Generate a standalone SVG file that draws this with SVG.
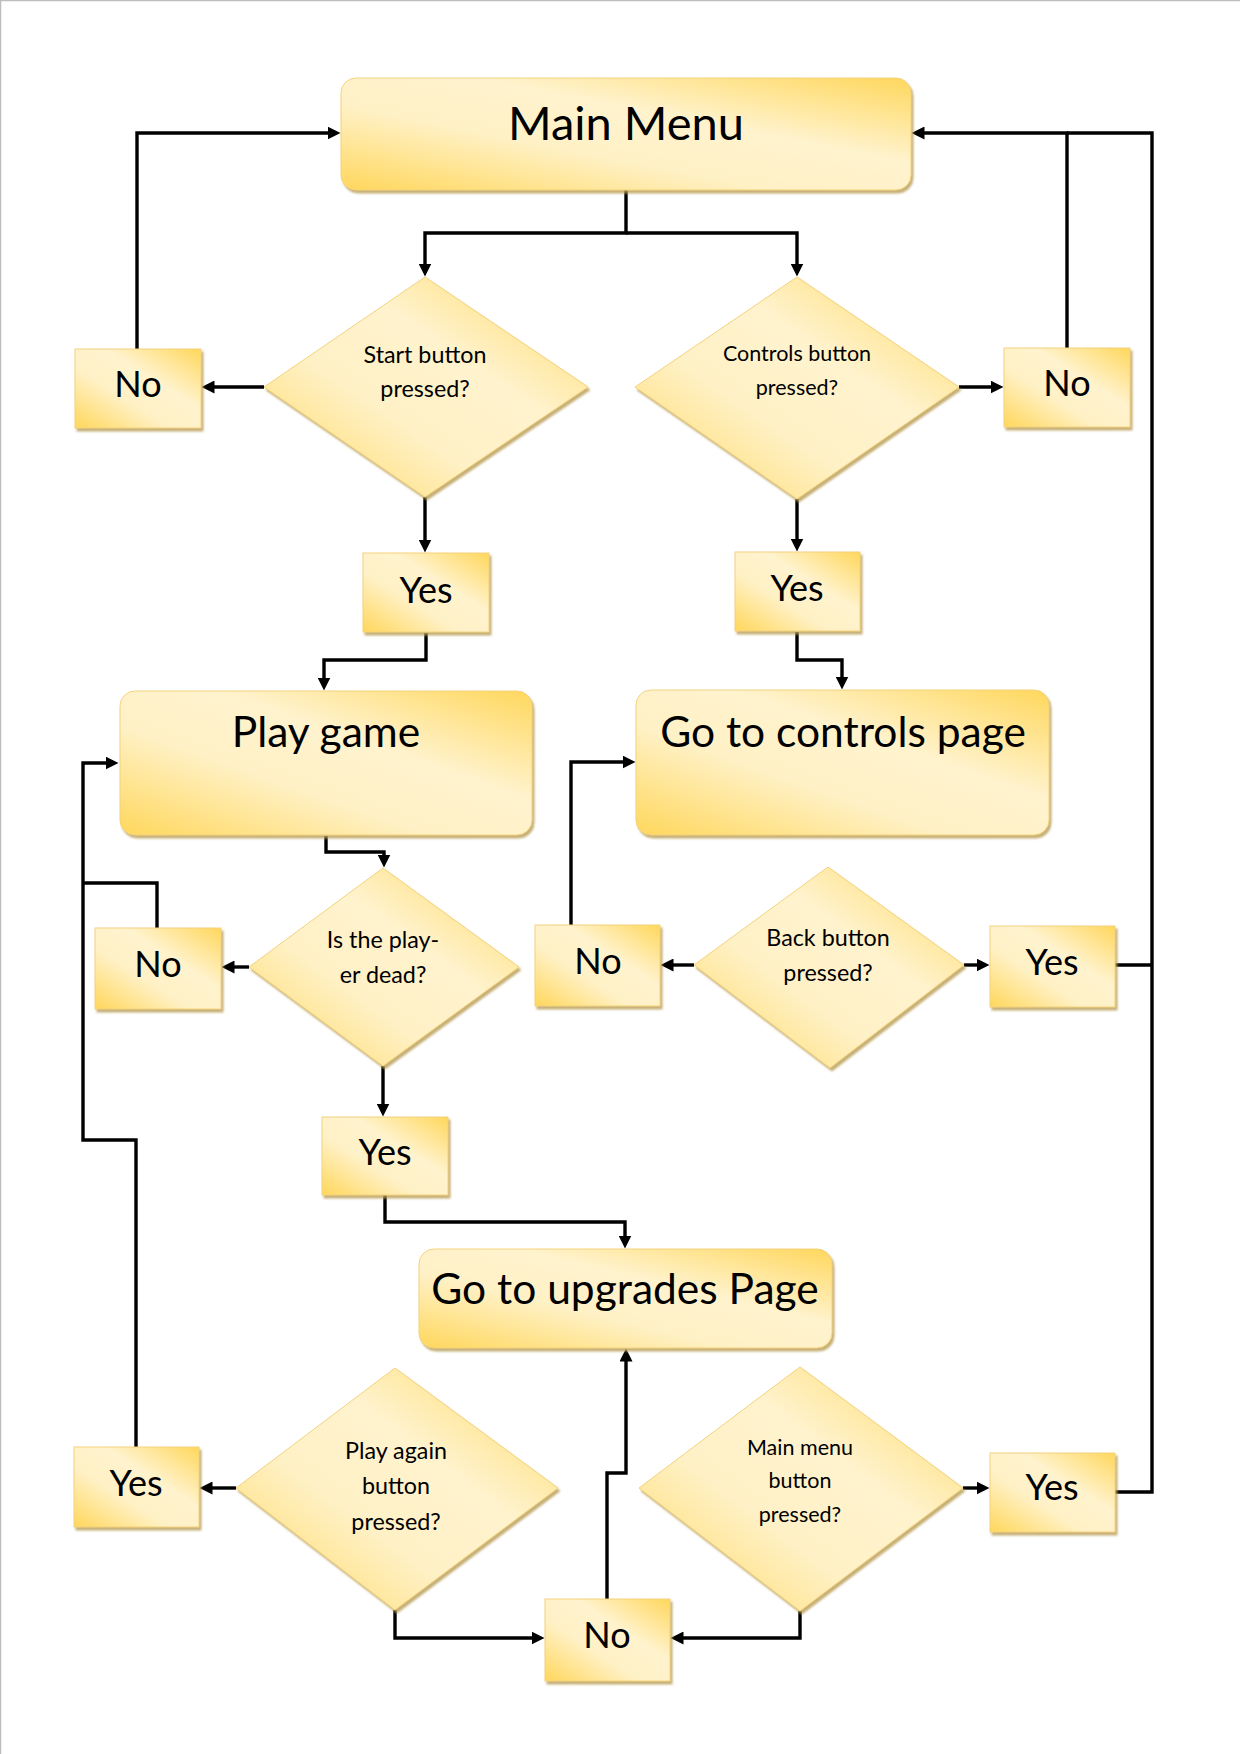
<svg xmlns="http://www.w3.org/2000/svg" width="1240" height="1754" viewBox="0 0 1240 1754">
<style>
.n{stroke:#F3D27C;stroke-width:1;filter:url(#sh)}
.big{font-family:Lato,"Liberation Sans",sans-serif;font-size:42.5px;fill:#000;text-anchor:middle}
.lab{font-family:Lato,"Liberation Sans",sans-serif;font-size:36px;fill:#000;text-anchor:middle}
.q{font-family:Lato,"Liberation Sans",sans-serif;font-size:23.3px;fill:#000;text-anchor:middle}
.qs{font-size:21.5px}
.c path{fill:none;stroke:#000;stroke-width:3.4}
.c .a{marker-end:url(#ah)}
</style>
<defs>
<linearGradient id="g" x1="0" y1="1" x2="1" y2="0">
<stop offset="0" stop-color="#FFD75C"/>
<stop offset="0.38" stop-color="#FFF1C6"/>
<stop offset="0.62" stop-color="#FFF3CE"/>
<stop offset="1" stop-color="#FFD75C"/>
</linearGradient>
<filter id="sh" x="-10%" y="-10%" width="125%" height="130%">
<feDropShadow dx="2" dy="3" stdDeviation="0.8" flood-color="#B89C55" flood-opacity="0.8"/>
</filter>
<marker id="ah" markerUnits="userSpaceOnUse" markerWidth="13" markerHeight="13" refX="6.5" refY="6.5" orient="auto">
<path d="M0,0 L13,6.5 L0,13 z" fill="#000"/>
</marker>
</defs>
<rect width="1240" height="1754" fill="#fff"/>
<path d="M0.5 1754 V0.5 H1240" fill="none" stroke="#BDBDBD" stroke-width="1.5"/>

<g id="connectors" class="c">
<path class="a" d="M626 190 V233 H425 V270"/>
<path class="a" d="M626 233 H797 V270"/>
<path class="a" d="M264 387 H208"/>
<path class="a" d="M137 349 V133 H334"/>
<path class="a" d="M959 387 H997"/>
<path class="a" d="M1067 348 V133 H918"/>
<path d="M1115 1492 H1152 V133 H1067"/>
<path d="M1115 965 H1152"/>
<path class="a" d="M425 497 V546"/>
<path class="a" d="M797 499 V545"/>
<path class="a" d="M426 633 V660 H324 V684"/>
<path class="a" d="M797 632 V660 H842 V683"/>
<path class="a" d="M326 836 V852 H384 V861"/>
<path class="a" d="M249 967 H228"/>
<path d="M157 928 V883 H83"/>
<path class="a" d="M136 1447 V1140 H83 V763 H112"/>
<path class="a" d="M383 1066 V1110"/>
<path class="a" d="M385 1195 V1222 H625 V1242"/>
<path class="a" d="M694 965 H667"/>
<path class="a" d="M571 925 V762 H629"/>
<path class="a" d="M964 965 H983"/>
<path class="a" d="M236 1488 H206"/>
<path class="a" d="M395 1610 V1638 H538"/>
<path class="a" d="M800 1611 V1638 H677"/>
<path class="a" d="M607 1599 V1473 H626 V1355"/>
<path class="a" d="M963 1488 H983"/>
</g>

<g id="main-menu"><rect class="n" x="341" y="78" width="570" height="112" rx="15" fill="url(#g)"/><text class="big" x="626" y="140" style="font-size:47px">Main Menu</text></g>

<g id="start-q"><polygon class="n" points="425,277 588,387 425,497 264,387" fill="url(#g)"/><text class="q" x="425" y="363">Start button</text><text class="q" x="425" y="397">pressed?</text></g>
<g id="controls-q"><polygon class="n" points="797,277 959,387 797,499 635,387" fill="url(#g)"/><text class="q qs" x="797" y="361">Controls button</text><text class="q qs" x="797" y="395">pressed?</text></g>

<g id="no-start"><rect class="n" x="75" y="349" width="126" height="79" fill="url(#g)"/><text class="lab" x="138" y="397">No</text></g>
<g id="no-controls"><rect class="n" x="1004" y="348" width="126" height="79" fill="url(#g)"/><text class="lab" x="1067" y="396">No</text></g>
<g id="yes-start"><rect class="n" x="363" y="553" width="126" height="79" fill="url(#g)"/><text class="lab" x="426" y="603">Yes</text></g>
<g id="yes-controls"><rect class="n" x="735" y="552" width="125" height="79" fill="url(#g)"/><text class="lab" x="797" y="601">Yes</text></g>

<g id="play-game"><rect class="n" x="120" y="691" width="412" height="144" rx="15" fill="url(#g)"/><text class="big" x="326" y="747">Play game</text></g>
<g id="controls-page"><rect class="n" x="636" y="690" width="413" height="145" rx="15" fill="url(#g)"/><text class="big" x="843" y="747">Go to controls page</text></g>

<g id="dead-q"><polygon class="n" points="383,868 519,967 383,1066 249,967" fill="url(#g)"/><text class="q" x="383" y="948">Is the play-</text><text class="q" x="383" y="983">er dead?</text></g>
<g id="no-dead"><rect class="n" x="95" y="928" width="126" height="81" fill="url(#g)"/><text class="lab" x="158" y="977">No</text></g>
<g id="back-q"><polygon class="n" points="828,867 964,965 830,1068 694,965" fill="url(#g)"/><text class="q" x="828" y="946">Back button</text><text class="q" x="828" y="981">pressed?</text></g>
<g id="no-back"><rect class="n" x="535" y="925" width="125" height="81" fill="url(#g)"/><text class="lab" x="598" y="974">No</text></g>
<g id="yes-back"><rect class="n" x="990" y="926" width="125" height="81" fill="url(#g)"/><text class="lab" x="1052" y="975">Yes</text></g>
<g id="yes-dead"><rect class="n" x="322" y="1117" width="126" height="78" fill="url(#g)"/><text class="lab" x="385" y="1165">Yes</text></g>

<g id="upgrades-page"><rect class="n" x="419" y="1249" width="413" height="99" rx="15" fill="url(#g)"/><text class="big" x="625" y="1304">Go to upgrades Page</text></g>

<g id="again-q"><polygon class="n" points="395,1368 558,1488 395,1610 236,1488" fill="url(#g)"/><text class="q" x="396" y="1459">Play again</text><text class="q" x="396" y="1494">button</text><text class="q" x="396" y="1530">pressed?</text></g>
<g id="menu-q"><polygon class="n" points="800,1367 963,1488 800,1611 639,1488" fill="url(#g)"/><text class="q qs" x="800" y="1455">Main menu</text><text class="q qs" x="800" y="1488">button</text><text class="q qs" x="800" y="1522">pressed?</text></g>
<g id="yes-again"><rect class="n" x="74" y="1447" width="125" height="80" fill="url(#g)"/><text class="lab" x="136" y="1496">Yes</text></g>
<g id="yes-menu"><rect class="n" x="990" y="1453" width="125" height="79" fill="url(#g)"/><text class="lab" x="1052" y="1500">Yes</text></g>
<g id="no-bottom"><rect class="n" x="545" y="1599" width="125" height="82" fill="url(#g)"/><text class="lab" x="607" y="1648">No</text></g>
</svg>
